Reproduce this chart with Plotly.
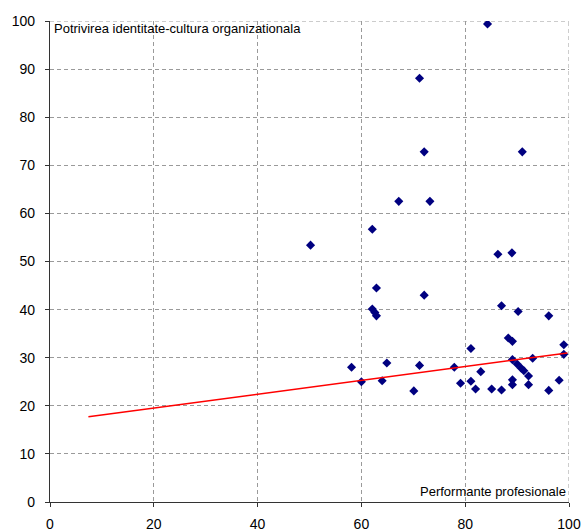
import plotly.graph_objects as go

perf_x = [50.2, 58.1, 60.0, 62.1, 62.9, 62.1, 62.6, 62.9, 64.0, 64.9,
          67.2, 70.1, 71.2, 71.2, 72.1, 72.1, 73.2, 77.9, 79.1, 81.1,
          81.1, 82.0, 83.0, 84.3, 85.1, 86.3, 87.0, 87.0, 88.3, 89.1,
          89.0, 89.1, 89.1, 89.1, 90.0, 90.2, 90.8, 91.0, 91.3, 92.2,
          92.2, 93.0, 96.1, 96.1, 98.1, 99.0, 99.0]
potr_y = [53.4, 28.0, 25.0, 56.7, 44.5, 40.1, 39.4, 38.7, 25.2, 28.9,
          62.5, 23.1, 28.4, 88.1, 43.0, 72.8, 62.5, 28.0, 24.7, 31.9,
          25.1, 23.5, 27.1, 99.4, 23.5, 51.5, 40.8, 23.3, 34.1, 33.4,
          51.8, 29.6, 25.4, 24.4, 28.7, 39.6, 27.8, 72.8, 27.3, 26.2,
          24.4, 29.9, 38.7, 23.2, 25.3, 32.7, 30.7]

trend_x = [7.4, 99.7]
trend_y = [17.7, 31.0]

x_ticks = [0, 20, 40, 60, 80, 100]
y_ticks = [0, 10, 20, 30, 40, 50, 60, 70, 80, 90, 100]

y_title = "Potrivirea identitate-cultura organizationala"
x_title = "Performante profesionale"

FONT = "Liberation Sans, Arial, sans-serif"
GRID = "#9a9a9a"
DASH = "4px,3px"

fig = go.Figure()
fig.add_trace(go.Scatter(
    x=perf_x, y=potr_y, mode="markers",
    marker=dict(symbol="diamond", size=7, color="#000080",
                line=dict(width=0)),
    showlegend=False, hoverinfo="x+y"))
fig.add_trace(go.Scatter(
    x=trend_x, y=trend_y, mode="lines",
    line=dict(color="#ff0000", width=1.5),
    showlegend=False, hoverinfo="skip"))

axis_style = dict(showgrid=True, gridcolor=GRID, griddash=DASH, gridwidth=1,
                  zeroline=False, showline=True, linecolor="#333333", linewidth=1.2,
                  ticks="outside", ticklen=4, tickcolor="#333333",
                  automargin=False,
                  tickfont=dict(family=FONT, size=14, color="#000000"))

fig.update_xaxes(range=[0, 100], tickvals=x_ticks, ticklabelstandoff=5, **axis_style)
fig.update_yaxes(range=[0, 100], tickvals=y_ticks, ticklabelstandoff=7, **axis_style)

# grid lines at the far edges (x=100, y=100)
fig.add_shape(type="line", xref="x", yref="y", x0=x_ticks[-1], x1=x_ticks[-1],
              y0=y_ticks[0], y1=y_ticks[-1], line=dict(color=GRID, width=1, dash=DASH),
              layer="below")
fig.add_shape(type="line", xref="x", yref="y", x0=x_ticks[0], x1=x_ticks[-1],
              y0=y_ticks[-1], y1=y_ticks[-1], line=dict(color=GRID, width=1, dash=DASH),
              layer="below")

fig.add_annotation(x=0, y=100, xref="x", yref="y", text=y_title,
                   showarrow=False, xanchor="left", yanchor="top",
                   xshift=3, yshift=1, borderpad=0,
                   font=dict(family=FONT, size=13, color="#000000"))
fig.add_annotation(x=100, y=0, xref="x", yref="y", text=x_title,
                   showarrow=False, xanchor="right", yanchor="bottom",
                   xshift=-2, yshift=2, borderpad=0,
                   font=dict(family=FONT, size=13, color="#000000"))

fig.update_layout(
    width=583, height=531,
    margin=dict(l=50, r=14, t=21, b=29),
    paper_bgcolor="#ffffff", plot_bgcolor="#ffffff",
    font=dict(family=FONT, size=14, color="#000000"),
)

fig.write_html(
    "out.html",
    config={"displayModeBar": False},
    post_script="document.body.style.margin='0';document.body.style.overflow='hidden';",
)
